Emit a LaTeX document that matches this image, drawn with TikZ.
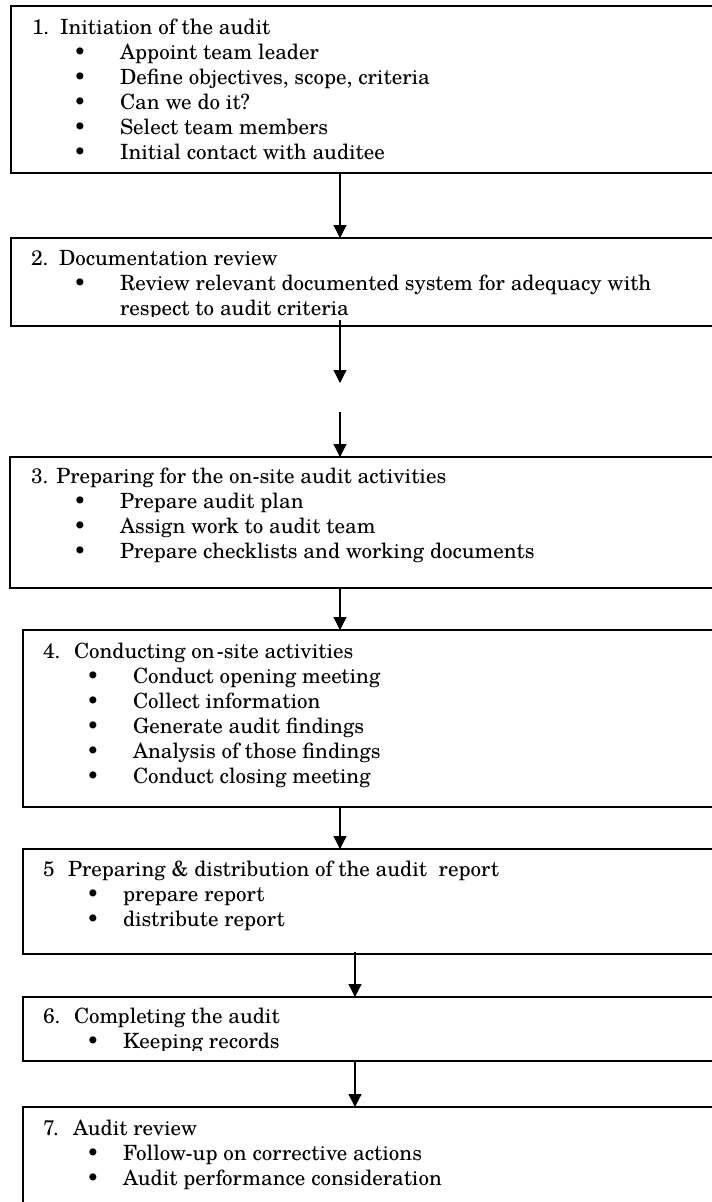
\documentclass[tikz,border=0pt]{standalone}
\usepackage{fontspec}
\setmainfont{TeX Gyre Schola}
\usetikzlibrary{arrows.meta,calc}
\begin{document}
\begin{tikzpicture}[x=1pt,y=-1pt,
  box/.style={draw, line width=1.6pt, rectangle, inner sep=0pt, outer sep=0pt, anchor=north west, minimum width=760pt},
  txt/.style={anchor=base west, inner sep=0pt, outer sep=0pt, font=\fontsize{21}{25}\selectfont},
  bul/.style={anchor=base, inner sep=0pt, outer sep=0pt, font=\fontsize{21}{25}\selectfont},
  arr/.style={line width=1.3pt, -{Triangle[width=13pt,length=13pt]}}]
\useasboundingbox (0,0) rectangle (712,1202);
\clip (0,0) rectangle (712,1202);
\fill[white] (0,0) rectangle (712,1202);
% boxes
\node[box, minimum height=167pt] (b1) at (11,6) {};
\node[box, minimum height=88pt] (b2) at (11,238) {};
\node[box, minimum height=131pt] (b3) at (10,457) {};
\node[box, minimum height=177pt] (b4) at (23,630) {};
\node[box, minimum height=105pt] (b5) at (23,849) {};
\node[box, minimum height=64pt] (b6) at (23,997) {};
\node[box, minimum height=130pt] (b7) at (23,1107) {};
% arrow columns
\coordinate (axA) at (340,0);
\coordinate (axB) at (355,0);
\coordinate (m1) at (340,383);
\coordinate (m2) at (340,412);
% box 1
\node[txt] (t1n) at (32,34) {1.};
\node[txt] (t1) at (60,34) {Initiation of the audit};
\foreach \y/\s [count=\i] in {59/Appoint team leader,84/{Define objectives, scope, criteria},109/Can we do it?,134/Select team members,159/Initial contact with auditee}{
  \node[bul] (b1b\i) at (80,\y) {•};
  \node[txt] (b1i\i) at (120,\y) {\s};
}
% box 2
\node[txt] (t2n) at (31,265) {2.};
\node[txt] (t2) at (59,265) {Documentation review};
\node[bul] (b2b1) at (80,290) {•};
\node[txt] (b2i1) at (120,290) {Review relevant documented system for adequacy with};
\begin{scope}
\clip (0,0) rectangle (712,316);
\node[txt] (b2i2) at (120,315) {respect to audit criteria};
\end{scope}
% box 3
\node[txt] (t3) at (31,483) {3. Preparing for the on-site audit activities};
\foreach \y/\s [count=\i] in {508/Prepare audit plan,533/Assign work to audit team,558/Prepare checklists and working documents}{
  \node[bul] (b3b\i) at (80,\y) {•};
  \node[txt] (b3i\i) at (120,\y) {\s};
}
% box 4
\node[txt] (t4n) at (43,658) {4.};
\node[txt] (t4) at (74,658) {Conducting on\kern2pt-site activities};
\foreach \y/\s [count=\i] in {683/Conduct opening meeting,708/Collect information,733/Generate audit findings,758/Analysis of those findings,783/Conduct closing meeting}{
  \node[bul] (b4b\i) at (93,\y) {•};
  \node[txt] (b4i\i) at (133,\y) {\s};
}
% box 5
\node[txt] (t5n) at (43,876) {5};
\node[txt] (t5) at (68,876) {Preparing \& distribution of the audit\ \ report};
\foreach \y/\s [count=\i] in {901/prepare report,926/distribute report}{
  \node[bul] (b5b\i) at (93,\y) {•};
  \node[txt] (b5i\i) at (123,\y) {\s};
}
% box 6
\node[txt] (t6n) at (43,1023) {6.};
\node[txt] (t6) at (74,1023) {Completing the audit};
\begin{scope}
\clip (0,0) rectangle (712,1050);
\node[bul] (b6b1) at (93,1048) {•};
\node[txt] (b6i1) at (123,1048) {Keeping records};
\end{scope}
% box 7
\node[txt] (t7n) at (43,1135) {7.};
\node[txt] (t7) at (73,1135) {Audit review};
\foreach \y/\s [count=\i] in {1160/Follow-up on corrective actions,1185/Audit performance consideration}{
  \node[bul] (b7b\i) at (93,\y) {•};
  \node[txt] (b7i\i) at (123,\y) {\s};
}
% arrows
\draw[arr] (b1.south -| axA) -- (b2.north -| axA);
\draw[arr] ($(b2.south -| axA)+(0,-6)$) -- (m1);
\draw[arr] (m2) -- (b3.north -| axA);
\draw[arr] (b3.south -| axA) -- (b4.north -| axA);
\draw[arr] (b4.south -| axA) -- (b5.north -| axA);
\draw[arr] ($(b5.south -| axB)+(0,-2)$) -- (b6.north -| axB);
\draw[arr] (b6.south -| axB) -- (b7.north -| axB);
\end{tikzpicture}
\end{document}
